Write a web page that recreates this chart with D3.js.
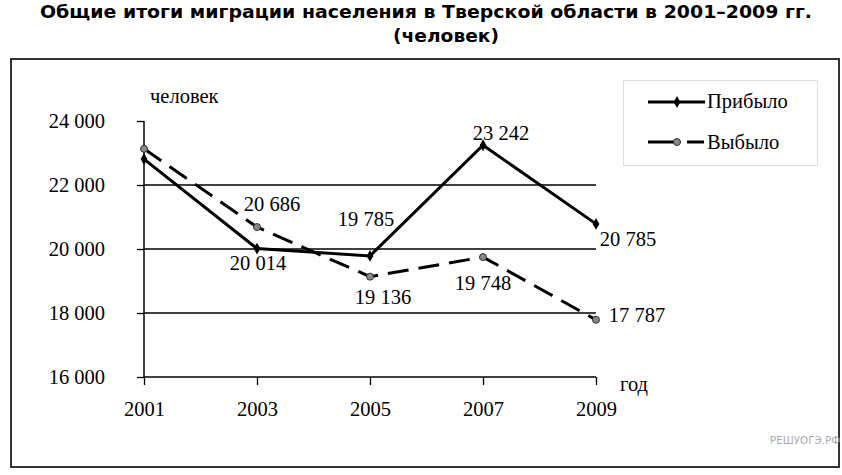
<!DOCTYPE html>
<html><head><meta charset="utf-8">
<script src="https://cdn.jsdelivr.net/npm/d3@7"></script>
<style>body{margin:0;background:#fff}svg{display:block}</style>
</head><body>
<svg id="c" width="842" height="475"></svg>
<script>
const years = [2001, 2003, 2005, 2007, 2009];
const arrived = [22810, 20014, 19785, 23242, 20785];
const departed = [23130, 20686, 19136, 19748, 17787];
const arrivedLabels = [null, "20 014", "19 785", "23 242", "20 785"];
const departedLabels = [null, "20 686", "19 136", "19 748", "17 787"];
const yTicks = [16000, 18000, 20000, 22000, 24000];
const yTickLabels = ["16 000", "18 000", "20 000", "22 000", "24 000"];
const gridValues = [18000, 20000, 22000];
const seriesNames = ["Прибыло", "Выбыло"];

const svg = d3.select("#c");
const serif = "'Liberation Serif','Times New Roman',serif";
const FS = 20.5;

// title
const tfont = "'DejaVu Sans',Verdana,sans-serif";
svg.append("text").attr("x", 426).attr("y", 18).attr("text-anchor", "middle")
  .style("font-family", tfont).style("font-weight", "bold").style("font-size", "18px")
  .attr("textLength", 772).attr("lengthAdjust", "spacingAndGlyphs")
  .text("Общие итоги миграции населения в Тверской области в 2001–2009 гг.");
svg.append("text").attr("x", 446).attr("y", 42).attr("text-anchor", "middle")
  .style("font-family", tfont).style("font-weight", "bold").style("font-size", "18px")
  .attr("textLength", 106).attr("lengthAdjust", "spacingAndGlyphs")
  .text("(человек)");

// frame
svg.append("rect").attr("x", 11).attr("y", 59).attr("width", 828).attr("height", 408)
  .attr("fill", "none").attr("stroke", "#333").attr("stroke-width", 2);

const x = d3.scalePoint().domain(years).range([144, 596]);
const y = d3.scaleLinear().domain([16000, 24000]).range([377, 121]);

// grid
svg.append("g").selectAll("line").data(gridValues).join("line")
  .attr("x1", 144).attr("x2", 596).attr("y1", d => y(d)).attr("y2", d => y(d))
  .attr("stroke", "#000").attr("stroke-width", 1.3);

// y axis
const yAxis = d3.axisLeft(y).tickValues(yTicks).tickSize(7).tickFormat((d, i) => yTickLabels[i]);
const gy = svg.append("g").attr("transform", "translate(144,0)").call(yAxis);
gy.attr("font-family", null).attr("font-size", null);
gy.select(".domain").attr("stroke", "#000").attr("stroke-width", 1.5).attr("d", "M0," + y(24000) + "V" + y(16000));
gy.selectAll(".tick line").attr("stroke", "#000").attr("stroke-width", 1.3);
gy.selectAll(".tick text").style("font-family", serif).style("font-size", FS + "px").attr("fill", "#000").attr("x", -39).attr("dy", "0.33em");

// x axis
const xAxis = d3.axisBottom(x).tickSize(8).tickPadding(12);
const gx = svg.append("g").attr("transform", "translate(0," + y(16000) + ")").call(xAxis);
gx.attr("font-family", null).attr("font-size", null);
gx.select(".domain").attr("stroke", "#000").attr("stroke-width", 1.5).attr("d", "M144,0H596");
gx.selectAll(".tick line").attr("stroke", "#000").attr("stroke-width", 1.3);
gx.selectAll(".tick text").style("font-family", serif).style("font-size", FS + "px").attr("fill", "#000")
  .attr("y", 39).attr("dy", null);

// axis titles
svg.append("text").attr("x", 150).attr("y", 103).style("font-family", serif).style("font-size", FS + "px").text("человек");
svg.append("text").attr("x", 620).attr("y", 391).style("font-family", serif).style("font-size", FS + "px").text("год");

const line = d3.line().x((d, i) => x(years[i])).y(d => y(d));

// departed (dashed)
svg.append("path").datum(departed).attr("d", line).attr("fill", "none")
  .attr("stroke", "#000").attr("stroke-width", 3).attr("stroke-dasharray", "21,10");
svg.append("g").selectAll("circle").data(departed).join("circle")
  .attr("cx", (d, i) => x(years[i])).attr("cy", d => y(d)).attr("r", 3.5)
  .attr("fill", "#888").attr("stroke", "#333").attr("stroke-width", 1);

// arrived (solid)
svg.append("path").datum(arrived).attr("d", line).attr("fill", "none")
  .attr("stroke", "#000").attr("stroke-width", 3);
svg.append("g").selectAll("path").data(arrived).join("path")
  .attr("transform", (d, i) => "translate(" + x(years[i]) + "," + y(d) + ")")
  .attr("d", d3.symbol(d3.symbolDiamond, 40)).attr("fill", "#000");

// data labels (offsets of baseline/center from the point)
const offA = [null, [1, 21], [-4, -30], [18, -5], [32, 22]];
const offD = [null, [15, -16], [13, 27], [0, 33], [41, 2]];
function labels(vals, texts, offs) {
  const idx = d3.range(vals.length).filter(i => texts[i] !== null);
  svg.append("g").selectAll("text").data(idx).join("text")
    .attr("x", i => x(years[i]) + offs[i][0])
    .attr("y", i => y(vals[i]) + offs[i][1])
    .attr("text-anchor", "middle").style("font-family", serif).style("font-size", FS + "px")
    .text(i => texts[i]);
}
labels(arrived, arrivedLabels, offA);
labels(departed, departedLabels, offD);

// legend
svg.append("rect").attr("x", 623.5).attr("y", 80.5).attr("width", 194).attr("height", 85)
  .attr("fill", "#fff").attr("stroke", "#ddd").attr("stroke-width", 1);
const lg = svg.append("g");
lg.append("line").attr("x1", 648).attr("x2", 705).attr("y1", 102).attr("y2", 102).attr("stroke", "#000").attr("stroke-width", 3);
lg.append("path").attr("transform", "translate(677,102)").attr("d", d3.symbol(d3.symbolDiamond, 40)).attr("fill", "#000");
lg.append("line").attr("x1", 648).attr("x2", 704).attr("y1", 142).attr("y2", 142).attr("stroke", "#000").attr("stroke-width", 3).attr("stroke-dasharray", "26,13,17");
lg.append("circle").attr("cx", 677).attr("cy", 142).attr("r", 3.5).attr("fill", "#888").attr("stroke", "#333");
lg.selectAll("text").data(seriesNames).join("text")
  .attr("x", 707).attr("y", (d, i) => 108 + i * 41).style("font-family", serif).style("font-size", FS + "px").text(d => d);

// watermark
svg.append("text").attr("x", 840).attr("y", 444).attr("text-anchor", "end")
  .style("font-family", "'DejaVu Sans Condensed','Liberation Sans Narrow',sans-serif").style("font-size", "10px")
  .attr("textLength", 70).attr("lengthAdjust", "spacingAndGlyphs")
  .attr("fill", "#aaa").text("РЕШУОГЭ.РФ");
</script>
</body></html>
